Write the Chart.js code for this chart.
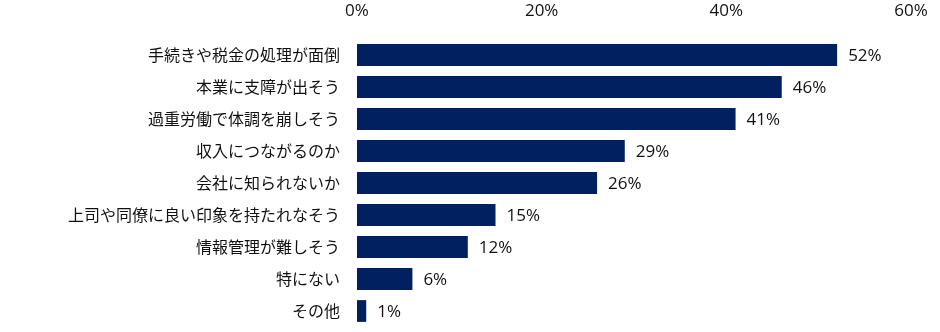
<!DOCTYPE html>
<html lang="ja">
<head>
<meta charset="utf-8">
<title>chart</title>
<script src="https://cdn.jsdelivr.net/npm/chart.js@4"></script>
<style>
  html, body { margin: 0; padding: 0; background: #fff; overflow: hidden; }
  canvas { display: block; }
</style>
</head>
<body>
<canvas id="mychart" width="940" height="332"></canvas>
<script>
var labels = ['手続きや税金の処理が面倒', '本業に支障が出そう', '過重労働で体調を崩しそう', '収入につながるのか',
  '会社に知られないか', '上司や同僚に良い印象を持たれなそう', '情報管理が難しそう', '特にない', 'その他'];
var values = [52, 46, 41, 29, 26, 15, 12, 6, 1];
var tickValues = [0, 20, 40, 60];

var fontFamily = '"Noto Sans CJK JP", "Noto Sans", sans-serif';
var numFont = '"Open Sans", "Noto Sans", sans-serif';

// draw the % after each bar
var valueLabels = {
  id: 'valueLabels',
  afterDatasetsDraw: function (chart) {
    var ctx = chart.ctx;
    var meta = chart.getDatasetMeta(0);
    ctx.save();
    ctx.font = '17px ' + numFont;
    ctx.fillStyle = '#111';
    ctx.textAlign = 'left';
    ctx.textBaseline = 'middle';
    meta.data.forEach(function (bar, i) {
      ctx.fillText(values[i] + '%', bar.x + 11, bar.y + 1);
    });
    ctx.restore();
  }
};

new Chart(document.getElementById('mychart'), {
  type: 'bar',
  data: {
    labels: labels,
    datasets: [{
      data: values,
      backgroundColor: '#002060',
      barPercentage: 0.68,
      categoryPercentage: 1
    }]
  },
  options: {
    indexAxis: 'y',
    responsive: false,
    animation: false,
    layout: { padding: { left: 0, right: 29, top: 0, bottom: 5 } },
    plugins: { legend: { display: false }, tooltip: { enabled: false } },
    scales: {
      x: {
        position: 'top',
        min: 0,
        max: 60,
        afterBuildTicks: function (scale) {
          scale.ticks = tickValues.map(function (v) { return { value: v }; });
        },
        afterFit: function (scale) {
          scale.height = 39;
          scale.paddingLeft = 0;
          scale.paddingRight = 0;
        },
        grid: { display: false, drawTicks: false },
        border: { display: false },
        ticks: {
          padding: 18,
          color: '#111',
          font: { family: numFont, size: 17 },
          callback: function (v) { return v + '%'; }
        }
      },
      y: {
        afterFit: function (scale) {
          scale.width = 357;
          scale.paddingTop = 0;
          scale.paddingBottom = 0;
        },
        grid: { display: false, drawTicks: false },
        border: { display: false },
        ticks: {
          padding: 17,
          color: '#111',
          font: { family: fontFamily, size: 16 }
        }
      }
    }
  },
  plugins: [valueLabels]
});
</script>
</body>
</html>
